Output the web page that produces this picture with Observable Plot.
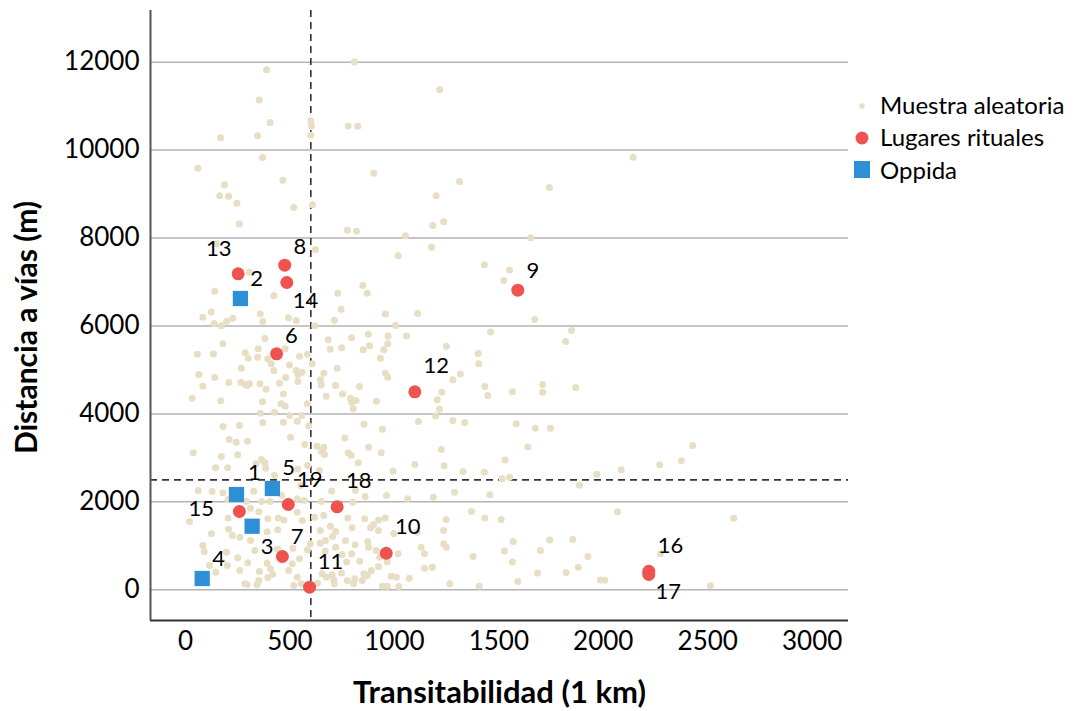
<!DOCTYPE html>
<html><head><meta charset="utf-8">
<script src="https://cdn.jsdelivr.net/npm/d3@7"></script>
<script src="https://cdn.jsdelivr.net/npm/@observablehq/plot@0.6"></script>
<style>
body{margin:0;background:#fff;font-family:Lato,sans-serif;}
#wrap{position:relative;width:1073px;height:711px;}
#legend{position:absolute;left:850px;top:88px;font-size:24px;color:#000;}
.item{display:flex;align-items:center;height:32.5px;white-space:nowrap;}
.sym{width:24px;height:24px;margin-right:6px;}
</style></head><body><div id="wrap"><div id="legend"></div></div>
<script>
// Tick values
const xTicks = [0, 500, 1000, 1500, 2000, 2500, 3000];
const yTicks = [0, 2000, 4000, 6000, 8000, 10000, 12000];
const xThreshold = 600;
const yThreshold = 2500;
const xTitle = "Transitabilidad (1 km)";
const yTitle = "Distancia a vías (m)";
const seriesNames = ["Muestra aleatoria", "Lugares rituales", "Oppida"];
const seriesColors = ["#e8dec4", "#ef5350", "#2d8fd5"];

// Random sample (Muestra aleatoria)
const sampleX = [388,808,1217,353,405,600,603,600,779,825,168,345,369,59,901,1312,187,466,164,206,246,518,608,1200,257,1236,1184,775,819,1053,
2143,1742,1652,1551,1524,1672,1848,1820,1565,1710,1710,1868,1583,1675,1747,1639,1530,2428,2374,2270,2086,1969,1886,1551,1516,2068,2625,1511,1569,1527,1744,1854,1699,1926,1565,1880,1822,1685,1591,1987,2007,2274,2513,
148,622,1178,1018,1431,306,140,423,729,849,870,745,957,1112,123,83,358,370,493,530,713,137,172,198,226,619,1005,1460,380,179,683,795,875,970,1058,1249,
57,134,286,300,345,348,394,410,477,546,584,693,748,851,881,949,968,933,1401,1404,423,498,267,607,726,530,539,559,662,957,968,1316,64,140,207,265,287,306,295,356,386,450,480,538,646,650,718,833,1280,1433,
83,32,169,369,469,458,477,583,674,752,790,796,817,803,914,1205,1227,1447,1216,1197,358,426,370,180,258,469,499,535,557,590,855,943,1115,1280,1337,
37,209,243,297,172,250,364,380,503,571,630,662,651,665,763,779,793,877,937,1225,1098,1238,144,202,337,384,426,536,585,641,827,994,1329,1431,
61,128,179,327,460,552,700,814,860,962,1064,1186,1288,1457,204,291,364,404,535,568,650,801,19,204,311,351,394,444,471,535,559,618,662,777,858,924,956,1248,1369,1433,
124,206,260,391,442,645,694,719,704,798,886,900,924,997,1109,1236,873,877,812,766,645,670,598,584,514,440,311,332,224,83,90,196,250,298,391,511,546,669,719,750,771,795,834,913,930,1018,1128,1144,1236,1249,1377,
115,145,260,354,407,418,494,535,654,675,702,710,747,774,810,854,890,924,985,1010,1071,1144,1181,943,966,1021,1265,1406,295,343,394,518,554,632,284,351,804,846,966,200,870,713];
const sampleY = [11825,12005,11370,11140,10625,10670,10550,10340,10550,10540,10280,10325,9830,9590,9475,9285,9210,9315,8960,8950,8790,8695,8760,8960,8320,8370,8285,8180,8155,8055,
9835,9150,8005,7275,7035,6145,5895,5645,4505,4670,4495,4600,3775,3675,3675,3250,2955,3280,2935,2845,2730,2630,2380,2560,2525,1775,1630,1600,1100,880,1135,1145,895,755,635,515,395,385,190,225,220,820,90,
7875,7740,7790,7595,7390,7220,6790,6690,6745,6920,6745,6380,6275,6285,6320,6200,6275,6100,6190,6125,6130,6055,6005,6110,6175,6005,6010,5865,5715,5595,5685,5730,5810,5775,5775,5540,
5360,5365,5390,5265,5290,5485,5255,5140,5480,5310,5360,5470,5505,5460,5550,5460,5595,5265,5375,5140,4985,5115,5040,5140,5040,4985,4895,4950,4925,4925,4835,4910,4895,4830,4715,4720,4670,4685,4645,4685,4560,4700,4830,4735,4775,4660,4645,4625,4775,4625,
4630,4355,4300,4275,4455,4230,4175,4230,4400,4455,4355,4265,4305,4115,4290,4325,4495,4420,4105,3955,4015,4040,3805,3715,3735,3810,3965,3835,3965,3730,3765,3650,3825,3850,3805,
3115,3420,3355,3380,3030,3070,2965,2890,3470,3305,3265,3245,3145,3075,3455,3115,3060,3245,3115,3190,2850,2820,2775,2775,2865,2765,2600,2750,2825,2715,2890,2695,2690,2675,
2260,2235,2205,2240,2150,2370,2250,2260,2120,2145,2070,2105,2220,2160,2055,2015,2010,2010,2070,2030,2010,1990,1555,1635,1855,1775,1615,1635,1590,1765,1575,1650,1690,1635,1615,1590,1635,1600,1780,1635,
1275,1380,1195,1320,1365,1350,1445,1325,1210,1410,1410,1485,1350,1275,1310,1350,1100,970,1025,1115,1060,1120,1045,910,945,930,1120,895,1235,1005,870,855,730,615,605,590,705,880,970,805,630,820,650,895,740,820,970,820,1045,970,755,
555,400,440,415,480,355,440,285,365,285,340,225,385,210,250,365,440,530,310,285,265,490,515,80,80,75,135,80,120,115,280,100,135,150,135,210,145,210,630,555,325,135];

// Named sites
const siteId   = ["1","2","3","4","5","6","7","8","9","10","11","12","13","14","15","16","17","18","19"];
const siteType = ["Oppida","Oppida","Oppida","Oppida","Oppida","Lugares rituales","Lugares rituales","Lugares rituales","Lugares rituales","Lugares rituales","Lugares rituales","Lugares rituales","Lugares rituales","Lugares rituales","Lugares rituales","Lugares rituales","Lugares rituales","Lugares rituales","Lugares rituales"];
const siteX = [244,263,319,80,416,436,464,475,1591,961,594,1098,252,485,258,2218,2218,726,492];
const siteY = [2167,6625,1446,257,2304,5367,757,7382,6814,832,59,4503,7187,6989,1781,420,350,1888,1940];
// Label anchor positions (data units)
const labelX = [330,340,391,159,494,507,535,547,1663,1064,694,1200,159,574,75,2322,2311,830,595];
const labelY = [2652,7073,969,705,2775,5784,1212,7808,7262,1424,644,5101,7755,6580,1842,1007,-39,2470,2502];

const sample = sampleX.map((x, i) => ({x, y: sampleY[i]}));
const sites = siteId.map((id, i) => ({id, type: siteType[i], x: siteX[i], y: siteY[i], lx: labelX[i], ly: labelY[i]}));
const ritual = sites.filter(d => d.type === "Lugares rituales");
const oppida = sites.filter(d => d.type === "Oppida");

const xDomain = [-167.5, 3174];
const yDomain = [-698, 13175];

const chart = Plot.plot({
  width: 1073, height: 711,
  marginLeft: 150, marginRight: 225, marginTop: 10, marginBottom: 91,
  style: {fontFamily: "Lato, sans-serif", fontSize: "26px", color: "#000", background: "#fff"},
  x: {domain: xDomain, ticks: xTicks, tickFormat: d3.format("d"), tickSize: 0, tickPadding: 11, label: null},
  y: {domain: yDomain, ticks: yTicks, tickFormat: d3.format("d"), tickSize: 0, tickPadding: 11, label: null},
  marks: [
    Plot.ruleY(yTicks, {stroke: "#b3b3b3", strokeWidth: 1.5}),
    Plot.ruleX([xThreshold], {stroke: "#333", strokeDasharray: "7,5", strokeWidth: 1.6}),
    Plot.ruleY([yThreshold], {stroke: "#333", strokeDasharray: "7,5", strokeWidth: 1.6}),
    Plot.dot(sample, {x: "x", y: "y", r: 3.5, fill: seriesColors[0]}),
    Plot.dot(ritual, {x: "x", y: "y", r: 6.5, fill: seriesColors[1]}),
    Plot.dot(oppida, {x: "x", y: "y", r: 8.6, symbol: "square", fill: seriesColors[2]}),
    Plot.text(sites, {x: "lx", y: "ly", text: "id", fontSize: 22, fill: "#000"}),
    Plot.ruleX([xDomain[0]], {stroke: "#555", strokeWidth: 2}),
    Plot.ruleY([yDomain[0]], {stroke: "#333", strokeWidth: 2}),
    Plot.text([xTitle], {text: d => d, frameAnchor: "bottom", textAnchor: "middle", dy: 82, lineAnchor: "bottom", fontWeight: "bold", fontSize: 31, fill: "#000"}),
    Plot.text([yTitle], {text: d => d, frameAnchor: "left", textAnchor: "middle", dx: -114, dy: 12, rotate: -90, lineAnchor: "bottom", fontWeight: "bold", fontSize: 30, fill: "#000"})
  ]
});
document.getElementById("wrap").prepend(chart);

// Legend
const legend = document.getElementById("legend");
const symbols = [
  `<circle cx="12" cy="14" r="2.8" fill="${seriesColors[0]}"/>`,
  `<circle cx="12" cy="13" r="6.5" fill="${seriesColors[1]}"/>`,
  `<rect x="4" y="4" width="16" height="17" fill="${seriesColors[2]}"/>`
];
seriesNames.forEach((name, i) => {
  const div = document.createElement("div");
  div.className = "item";
  div.innerHTML = `<svg class="sym" viewBox="0 0 24 24">${symbols[i]}</svg><span>${name}</span>`;
  legend.appendChild(div);
});
</script>
</body></html>
